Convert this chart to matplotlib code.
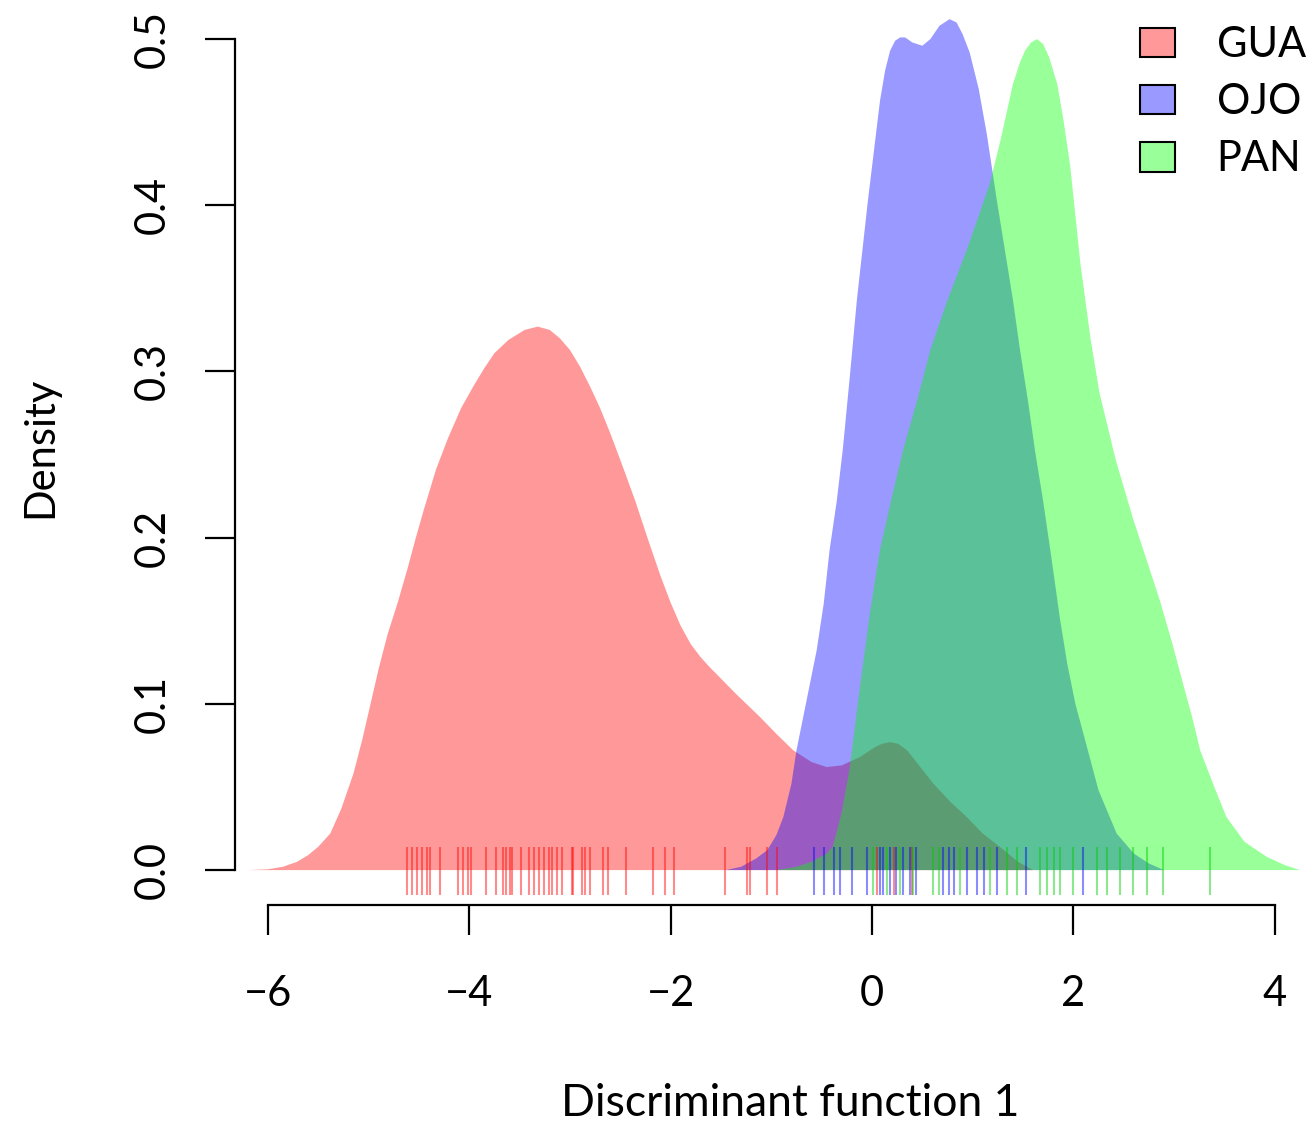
import numpy as np
import matplotlib
matplotlib.use('Agg')
import matplotlib.pyplot as plt
from matplotlib.patches import Patch

plt.rcParams['font.family'] = ['Lato', 'DejaVu Sans']

''' density curves read off the figure (x, density) '''
gua_x = [-6.2, -6.0, -5.85, -5.71, -5.6, -5.5, -5.38, -5.27, -5.15, -5.06, -4.98, -4.9,
         -4.81, -4.71, -4.61, -4.53, -4.45, -4.33, -4.21, -4.08, -3.95, -3.85, -3.75,
         -3.61, -3.45, -3.32, -3.2, -3.1, -3.0, -2.9, -2.8, -2.7, -2.6, -2.47, -2.35,
         -2.23, -2.1, -2.0, -1.9, -1.8, -1.7, -1.61, -1.48, -1.35, -1.23, -1.11, -0.95,
         -0.78, -0.6, -0.45, -0.3, -0.12, 0.03, 0.1, 0.18, 0.26, 0.35, 0.48, 0.61,
         0.78, 0.94, 1.1, 1.27, 1.45, 1.6]
gua_y = [0.0, 0.0005, 0.002, 0.005, 0.009, 0.014, 0.022, 0.037, 0.058, 0.079, 0.100,
         0.121, 0.142, 0.161, 0.182, 0.200, 0.217, 0.241, 0.260, 0.278, 0.292, 0.302,
         0.311, 0.319, 0.325, 0.327, 0.325, 0.320, 0.313, 0.303, 0.291, 0.278, 0.263,
         0.242, 0.222, 0.200, 0.177, 0.161, 0.147, 0.136, 0.128, 0.122, 0.114, 0.106,
         0.099, 0.092, 0.082, 0.072, 0.065, 0.062, 0.063, 0.068, 0.074, 0.076, 0.077,
         0.076, 0.072, 0.062, 0.052, 0.041, 0.032, 0.022, 0.014, 0.005, 0.0]

ojo_x = [-1.45, -1.3, -1.15, -1.04, -0.95, -0.88, -0.8, -0.75, -0.65, -0.55, -0.48,
         -0.42, -0.35, -0.29, -0.22, -0.15, -0.04, 0.08, 0.13, 0.18, 0.23, 0.28, 0.33,
         0.4, 0.5, 0.58, 0.67, 0.77, 0.84, 0.9, 0.97, 1.06, 1.14, 1.24, 1.32, 1.4,
         1.47, 1.55, 1.62, 1.7, 1.77, 1.87, 1.94, 2.02, 2.1, 2.25, 2.43, 2.6, 2.75, 2.9]
ojo_y = [0.0, 0.002, 0.007, 0.012, 0.021, 0.032, 0.052, 0.072, 0.102, 0.132, 0.160,
         0.193, 0.222, 0.253, 0.297, 0.343, 0.403, 0.463, 0.481, 0.493, 0.499, 0.501,
         0.501, 0.498, 0.496, 0.500, 0.508, 0.512, 0.510, 0.503, 0.492, 0.470, 0.443,
         0.403, 0.373, 0.343, 0.313, 0.282, 0.252, 0.222, 0.193, 0.150, 0.124, 0.100,
         0.082, 0.048, 0.022, 0.010, 0.004, 0.0]

pan_x = [-0.95, -0.75, -0.6, -0.45, -0.39, -0.3, -0.22, -0.12, -0.02, 0.08, 0.2, 0.31,
         0.45, 0.58, 0.75, 0.94, 1.05, 1.17, 1.28, 1.40, 1.47, 1.52, 1.58, 1.64, 1.70,
         1.76, 1.84, 1.9, 1.97, 2.07, 2.17, 2.26, 2.42, 2.59, 2.72, 2.86, 2.98, 3.09,
         3.18, 3.26, 3.40, 3.52, 3.7, 3.92, 4.1, 4.25]
pan_y = [0.0, 0.002, 0.005, 0.010, 0.014, 0.035, 0.062, 0.110, 0.155, 0.193, 0.225,
         0.253, 0.283, 0.313, 0.343, 0.373, 0.392, 0.413, 0.440, 0.473, 0.486, 0.493,
         0.498, 0.500, 0.497, 0.489, 0.473, 0.452, 0.423, 0.365, 0.320, 0.287, 0.247,
         0.212, 0.188, 0.162, 0.137, 0.112, 0.092, 0.072, 0.050, 0.032, 0.017, 0.008,
         0.003, 0.0]

''' rug: individual scores per population '''
gua_rug = [-4.62, -4.57, -4.52, -4.47, -4.42, -4.39, -4.29, -4.11, -4.06, -4.01, -3.98,
           -3.83, -3.73, -3.66, -3.63, -3.59, -3.58, -3.49, -3.41, -3.36, -3.31, -3.26,
           -3.21, -3.18, -3.13, -3.08, -2.98, -2.97, -2.88, -2.85, -2.80, -2.67, -2.62,
           -2.44, -2.17, -2.06, -1.97, -1.46, -1.24, -1.21, -1.04, -0.94, 0.05, 0.22, 0.4]
ojo_rug = [-0.58, -0.48, -0.38, -0.32, -0.20, -0.05, 0.08, 0.11, 0.18, 0.24, 0.31, 0.38,
           0.44, 0.71, 0.76, 0.81, 0.94, 1.04, 1.11, 1.24, 1.53, 2.10]
pan_rug = [0.01, 0.15, 0.28, 0.41, 0.61, 0.67, 0.87, 1.17, 1.34, 1.44, 1.67, 1.74, 1.81,
           1.87, 2.0, 2.23, 2.33, 2.46, 2.59, 2.73, 2.89, 3.36]

groups = ['GUA', 'OJO', 'PAN']
colors = [(1, 0, 0, 0.4), (0, 0, 1, 0.4), (0, 1, 0, 0.4)]
rug_colors = [(1, 0, 0, 0.45), (0, 0, 1, 0.45), (0, 0.8, 0, 0.45)]

fig = plt.figure(figsize=(13.11, 11.29), dpi=100)
# axes box placed so that -6..4 and 0..0.5 land where the original has them
ax = fig.add_axes([235 / 1311, 224 / 1129, 1076 / 1311, 895 / 1129])

curves = [(gua_x, gua_y), (ojo_x, ojo_y), (pan_x, pan_y)]
for (cx, cy), col in zip(curves, colors):
    ax.fill_between(cx, 0, cy, facecolor=col, linewidth=0)

for rug, col in zip([gua_rug, ojo_rug, pan_rug], rug_colors):
    ax.vlines(rug, -0.015, 0.014, colors=[col], linewidth=1.5)

ax.set_xlim(-6.326, 4.36)
ax.set_ylim(-0.021, 0.5175)

# R style detached axes
for s in ['top', 'right']:
    ax.spines[s].set_visible(False)
ax.spines['left'].set_bounds(0, 0.5)
ax.spines['bottom'].set_bounds(-6, 4)
for s in ['left', 'bottom']:
    ax.spines[s].set_linewidth(1.6)

ax.set_xticks([-6, -4, -2, 0, 2, 4])
ax.set_xticklabels(['\u22126', '\u22124', '\u22122', '0', '2', '4'])
ax.set_yticks([0, 0.1, 0.2, 0.3, 0.4, 0.5])
ax.set_yticklabels(['0.0', '0.1', '0.2', '0.3', '0.4', '0.5'], rotation=90, va='center')
ax.tick_params(direction='out', length=21.6, width=1.6, labelsize=30)
ax.tick_params(axis='x', pad=29)
ax.tick_params(axis='y', pad=24)

fig.text(790 / 1311, 1 - 1103 / 1129, 'Discriminant function 1', fontsize=32,
         ha='center', va='center')
fig.text(40 / 1311, 1 - 447 / 1129, 'Density', fontsize=30, rotation=90,
         ha='center', va='center')

handles = [Patch(facecolor=c, edgecolor='black', linewidth=1.5) for c in colors]
ax.legend(handles, groups, loc='upper left', bbox_to_anchor=(1140 / 1311, 1 - 26 / 1129),
          bbox_transform=fig.transFigure, frameon=False, fontsize=30,
          handlelength=0.84, handleheight=0.72, handletextpad=1.0,
          labelspacing=0.46, borderpad=0, borderaxespad=0)

plt.savefig('out.png', dpi=100)
